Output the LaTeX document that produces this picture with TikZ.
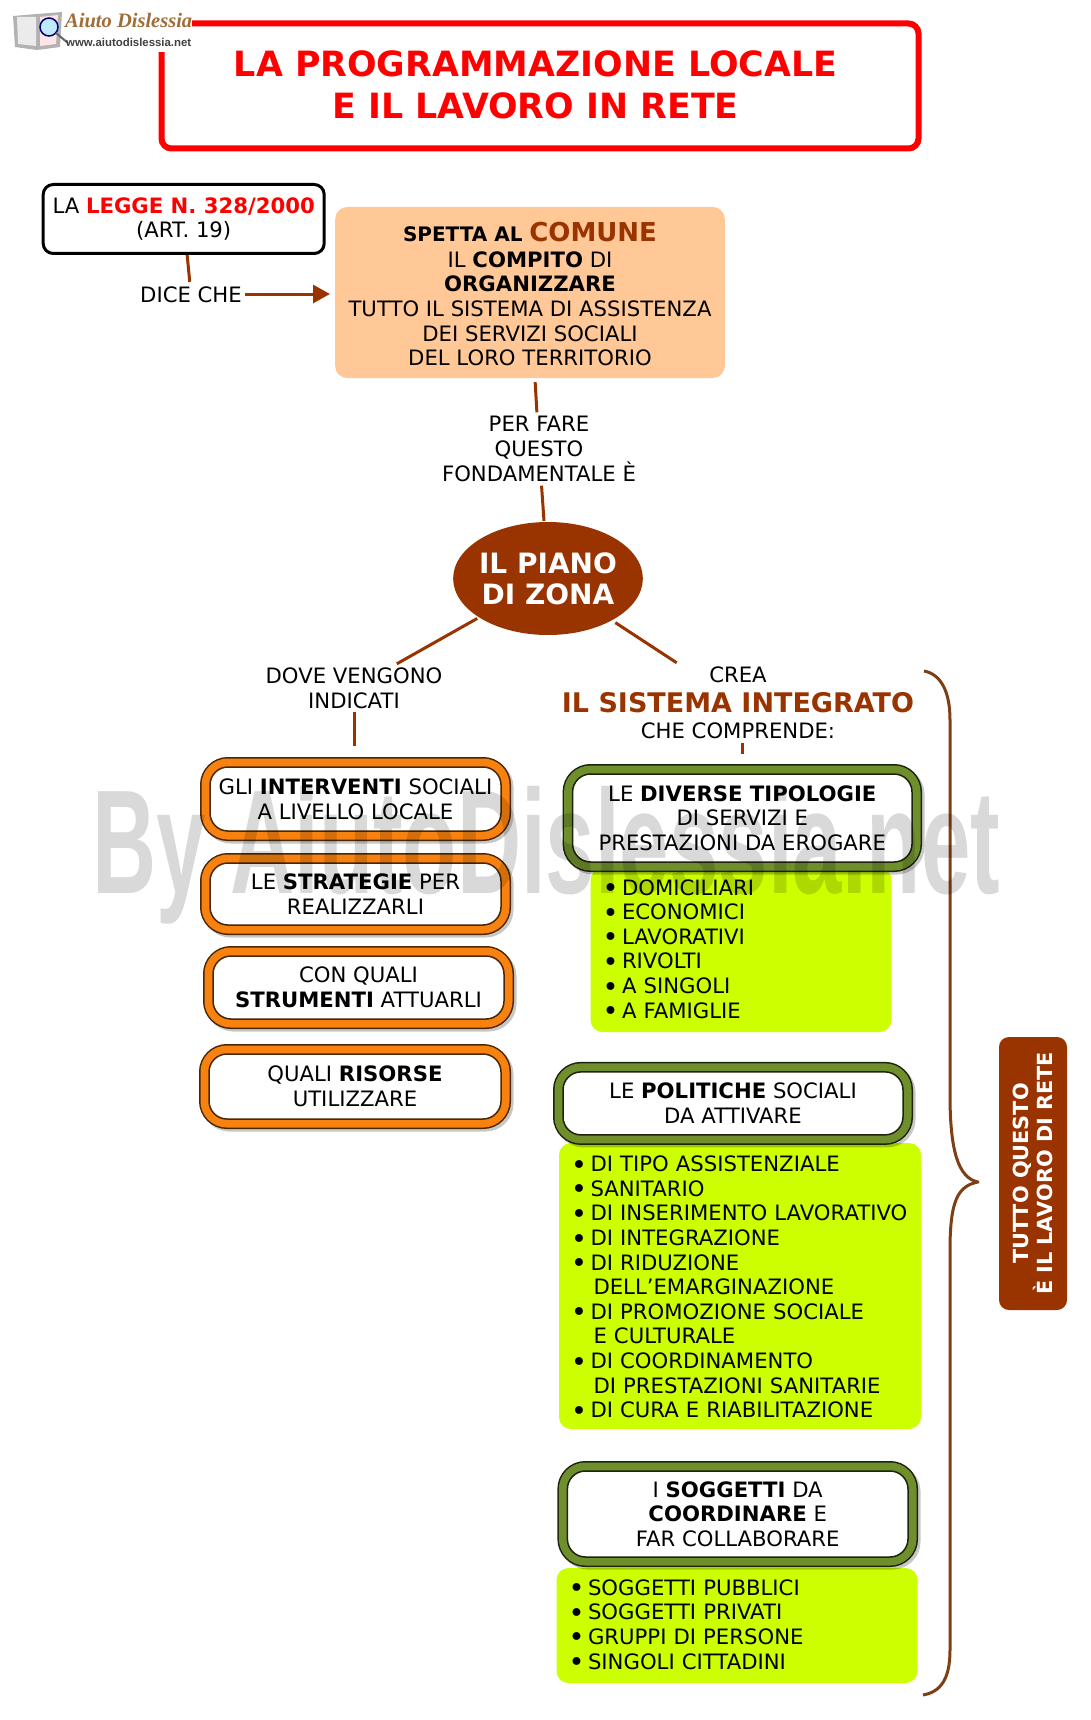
\documentclass[tikz,border=0pt]{standalone}
\usepackage{fontspec}
\setmainfont{DejaVu Sans}
\newfontfamily\logoserif{Liberation Serif}
\newfontfamily\logosans{Liberation Sans}
\usetikzlibrary{arrows.meta,shapes.geometric}
\definecolor{marrone}{HTML}{993300}
\definecolor{graffa}{HTML}{7F3F14}
\definecolor{pesca}{HTML}{FFC896}
\definecolor{lime}{HTML}{CCFF00}
\definecolor{arancio}{HTML}{F7820F}
\definecolor{oliva}{HTML}{6F8F2D}
\newcommand{\testo}{\fontsize{21.2}{24.6}\selectfont}
\newcommand{\pallino}{\hspace*{2pt}\makebox[19.5pt][l]{\raisebox{-2.5pt}{\fontsize{27}{24.6}\selectfont\textbullet}}}
\newcommand{\rientro}{\hspace*{24.5pt}}
\tikzset{
	conn/.style={draw=marrone, line width=3pt},
	testonode/.style={font=\testo, align=center, inner sep=0pt},
	ringbox/.style n args={2}{testonode, rounded corners=18pt, fill=white, draw=#2, line width=1.5pt,
		preaction={draw=black, opacity=.22, line width=20pt, transform canvas={shift={(2.5pt,-2.5pt)}}},
		preaction={draw=#2, line width=20pt},
		preaction={draw=#1, line width=17pt}},
	orangebox/.style={ringbox={arancio}{black!70!arancio}},
	greenbox/.style={ringbox={oliva}{black!75!oliva}},
	limebox/.style={font=\testo, align=left, fill=lime, rounded corners=12pt, inner xsep=10pt, inner ysep=0pt},
}
\begin{document}
\begin{tikzpicture}[x=1pt,y=-1pt]
	\useasboundingbox (0,0) rectangle (1091,1720);
	% il titolo
	\node (titolo) [draw=red, line width=6pt, rounded corners=10pt, minimum width=757pt, minimum height=125pt, inner sep=0pt] at (540,86) {};
	\node (titolotesto) [font=\fontsize{34.8}{42}\selectfont\bfseries, text=red, align=center, inner sep=0pt] at (535.5,84.5)
		{LA PROGRAMMAZIONE LOCALE\\E IL LAVORO IN RETE};
	% il logo
	\fill[white] (0,0) rectangle (192,52);
	\fill[black!30!white] (13,16) -- (37,14) -- (62,12) -- (60,47) -- (37,50) -- (15,47) -- cycle;
	\fill[black!8] (17,17) -- (36,17) -- (36,46) -- (18,44) -- cycle;
	\fill[red!10] (40,17) -- (58,15) -- (56,44) -- (40,46) -- cycle;
	\draw[black!55!blue, line width=1.5pt, fill=cyan!25] (49,27) circle (9);
	\draw[black!60, line width=2pt] (56,33) -- (68,43);
	\node (logo) [font=\logoserif\fontsize{20.5}{20}\selectfont\bfseries\itshape, text=brown!85!black, inner sep=0pt, anchor=west] at (65,21) {Aiuto Dislessia};
	\node (sito) [font=\logosans\fontsize{11.4}{14}\selectfont\bfseries, text=black!75, inner sep=0pt, anchor=west] at (66,42) {www.aiutodislessia.net};
	% la parte alta
	\node (legge) [testonode, draw=black, line width=3pt, rounded corners=10pt, fill=white, minimum width=281pt, minimum height=69pt] at (183.7,219)
		{LA \textcolor{red}{\textbf{LEGGE N. 328/2000}}\\(ART. 19)};
	\node (dice) [testonode, minimum width=108pt, minimum height=26pt] at (191,295) {DICE CHE};
	\node (comune) [testonode, fill=pesca, rounded corners=12pt, minimum width=389.6pt, minimum height=171pt] at (530,292.5)
		{\rule{0pt}{22.5pt}{\fontsize{20}{24.6}\selectfont\textbf{SPETTA AL}} \textcolor{marrone}{\fontsize{26}{24.6}\selectfont\textbf{COMUNE}}\\[1pt]IL \textbf{COMPITO} DI\\\textbf{ORGANIZZARE}\\TUTTO IL SISTEMA DI ASSISTENZA\\DEI SERVIZI SOCIALI\\DEL LORO TERRITORIO};
	\node (perfare) [testonode, minimum width=190pt, minimum height=73pt] at (539,449) {PER FARE\\QUESTO\\FONDAMENTALE È};
	\node (piano) [ellipse, fill=marrone, text=white, font=\fontsize{28}{31}\selectfont\bfseries, align=center, inner sep=-6pt, minimum width=189.7pt, minimum height=113pt] at (548,578.5)
		{IL PIANO\\DI ZONA};
	\node (dove) [testonode, minimum width=180pt, minimum height=48pt] at (354,688) {DOVE VENGONO\\INDICATI};
	\node (crea) [testonode, minimum width=352pt, minimum height=80pt] at (738,703)
		{CREA\\[5pt]\textcolor{marrone}{\fontsize{27}{28}\selectfont\textbf{IL SISTEMA INTEGRATO}}\\[2pt]CHE COMPRENDE:};
	% la colonna di sinistra
	\node (interventi) [orangebox, minimum width=291pt, minimum height=64pt] at (355.5,799) {GLI \textbf{INTERVENTI} SOCIALI\\A LIVELLO LOCALE};
	\node (strategie) [orangebox, minimum width=291pt, minimum height=62pt] at (355.5,894) {LE \textbf{STRATEGIE} PER\\REALIZZARLI};
	\node (strumenti) [orangebox, minimum width=291pt, minimum height=63pt] at (358.5,987.5) {CON QUALI\\\textbf{STRUMENTI} ATTUARLI};
	\node (risorse) [orangebox, minimum width=292pt, minimum height=65pt] at (355,1086.5) {QUALI \textbf{RISORSE}\\UTILIZZARE};
	% la colonna di destra: prima i riquadri verdi, sotto le testate
	\node (elenco1) [limebox, text width=281pt, minimum height=164pt] at (741,950)
		{\pallino DOMICILIARI\\\pallino ECONOMICI\\\pallino LAVORATIVI\\\pallino RIVOLTI\\\pallino A SINGOLI\\\pallino A FAMIGLIE};
	\node (tipologie) [greenbox, minimum width=339.4pt, minimum height=88pt] at (742.3,818) {LE \textbf{DIVERSE TIPOLOGIE}\\DI SERVIZI E\\PRESTAZIONI DA EROGARE};
	\node (elenco2) [limebox, text width=342pt, minimum height=286pt] at (740,1286)
		{\rule{0pt}{20pt}\pallino DI TIPO ASSISTENZIALE\\\pallino SANITARIO\\\pallino DI INSERIMENTO LAVORATIVO\\\pallino DI INTEGRAZIONE\\\pallino DI RIDUZIONE\\\rientro DELL’EMARGINAZIONE\\\pallino DI PROMOZIONE SOCIALE\\\rientro E CULTURALE\\\pallino DI COORDINAMENTO\\\rientro DI PRESTAZIONI SANITARIE\\\pallino DI CURA E RIABILITAZIONE};
	\node (politiche) [greenbox, minimum width=340pt, minimum height=63pt] at (733,1103.4) {LE \textbf{POLITICHE} SOCIALI\\DA ATTIVARE};
	\node (elenco3) [limebox, text width=341pt, minimum height=115pt] at (737,1625.5)
		{\pallino SOGGETTI PUBBLICI\\\pallino SOGGETTI PRIVATI\\\pallino GRUPPI DI PERSONE\\\pallino SINGOLI CITTADINI};
	\node (soggetti) [greenbox, minimum width=340.6pt, minimum height=86pt] at (737.7,1514) {I \textbf{SOGGETTI} DA\\\textbf{COORDINARE} E\\FAR COLLABORARE};
	% la graffa e il riquadro finale
	\draw[draw=graffa, line width=3pt, line join=round] (924,671) .. controls (940,674) and (950,690) .. (950,720) -- (950,1095)
		.. controls (950,1150) and (958,1178) .. (978,1182) .. controls (958,1186) and (950,1200) .. (950,1250)
		-- (950,1650) .. controls (950,1680) and (940,1692) .. (923,1695);
	\node (rete) [rotate=90, fill=marrone, text=white, rounded corners=10pt, font=\fontsize{20.8}{24.6}\selectfont\bfseries, align=center, inner sep=0pt, minimum width=273pt, minimum height=68pt] at (1033,1173.5)
		{TUTTO QUESTO\\È IL LAVORO DI RETE};
	% i collegamenti
	\draw[conn] (legge) -- (dice);
	\draw[conn, -{Triangle[length=17pt,width=18pt]}, shorten >=5pt] ([yshift=1pt]dice.east) -- ([yshift=1pt]dice.east -| comune.west);
	\draw[conn, shorten <=4pt] (comune) -- (perfare);
	\draw[conn, shorten >=1pt] (perfare) -- (piano);
	\draw[conn, shorten <=2pt] (piano) -- (dove);
	\draw[conn, shorten >=20pt] (dove) -- (dove |- interventi.north);
	\draw[conn, shorten <=4pt] (piano) -- (crea);
	\draw[conn, shorten >=19pt] (crea.south -| tipologie.north) -- (tipologie.north);
	% la filigrana
	\node (filigrana) [font=\logosans\fontsize{148}{148}\selectfont\bfseries, text=black, text opacity=.15, xscale=.6, transform shape, inner sep=0pt, anchor=base west] at (92,893) {By AiutoDislessia.net};
\end{tikzpicture}
\end{document}
